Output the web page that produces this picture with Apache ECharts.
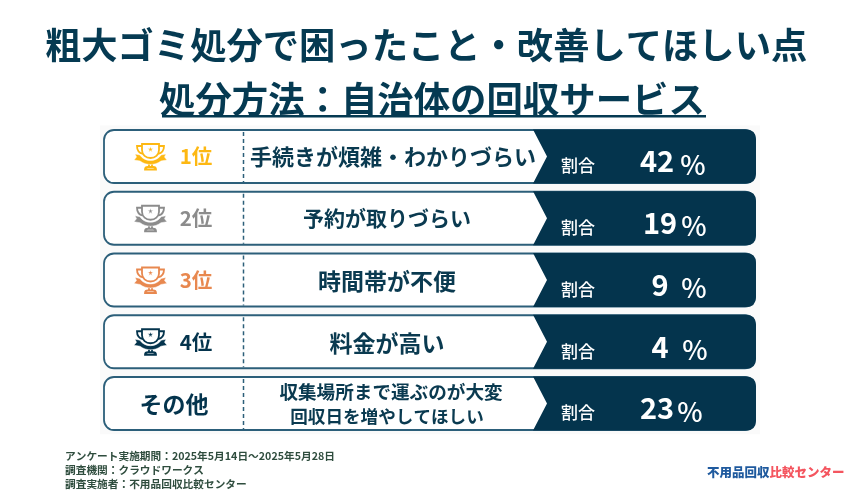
<!DOCTYPE html>
<html>
<head>
<meta charset="utf-8">
<title>粗大ゴミ処分で困ったこと・改善してほしい点</title>
<script src="https://cdn.jsdelivr.net/npm/echarts@6/dist/echarts.min.js"></script>
<style>
  html, body { margin: 0; padding: 0; background: #fff; }
  #chart { width: 850px; height: 500px; }
</style>
</head>
<body>
<div id="chart"></div>
<script>
// データ
const ranks = ['1位', '2位', '3位', '4位', 'その他'];
const reasons = [
  ['手続きが煩雑・わかりづらい'],
  ['予約が取りづらい'],
  ['時間帯が不便'],
  ['料金が高い'],
  ['収集場所まで運ぶのが大変', '回収日を増やしてほしい']
];
const shares = [42, 19, 9, 4, 23];
const shareLabel = '割合';
const notes = [
  'アンケート実施期間：2025年5月14日〜2025年5月28日',
  '調査機関：クラウドワークス',
  '調査実施者：不用品回収比較センター'
];

// 見た目
const FONT = '"Noto Sans CJK JP", "Noto Sans", sans-serif';
const NAVY = '#04344d';
const rankColors = ['#fdb813', '#8c8c8c', '#e8884f', '#04344d', '#04344d'];
const reasonSizes = [22, 21, 23, 23, 18.6];
const reasonCenters = [289, 283, 283, 283, 283];
const reasonDrops = [0, 0, 1, 2, 0];
const numberOffsets = [0, 3, 3, 3, 0];
const percentOffsets = [0, 1, 1, 2, -3];

// 右側の濃い帯（左端が矢印の形に切り欠かれる）
echarts.graphic.registerShape('sharePanel', echarts.graphic.extendShape({
  shape: { x: 0, y: 0, width: 0, height: 0, notch: 14, r: 10 },
  buildPath(ctx, s) {
    const right = s.x + s.width, bottom = s.y + s.height;
    ctx.moveTo(s.x, s.y);
    ctx.lineTo(right - s.r, s.y);
    ctx.quadraticCurveTo(right, s.y, right, s.y + s.r);
    ctx.lineTo(right, bottom - s.r);
    ctx.quadraticCurveTo(right, bottom, right - s.r, bottom);
    ctx.lineTo(s.x, bottom);
    ctx.lineTo(s.x + s.notch, s.y + s.height / 2);
    ctx.closePath();
  }
}));

// トロフィー（線の部分）
echarts.graphic.registerShape('trophyLine', echarts.graphic.extendShape({
  shape: { x: 0, y: 0 },
  buildPath(ctx, s) {
    const x = s.x, y = s.y;
    ctx.moveTo(x + 8, y + 1);
    ctx.lineTo(x + 25, y + 1);
    ctx.lineTo(x + 25, y + 7);
    ctx.bezierCurveTo(x + 25, y + 12, x + 21, y + 15, x + 16.5, y + 15);
    ctx.bezierCurveTo(x + 12, y + 15, x + 8, y + 12, x + 8, y + 7);
    ctx.closePath();
    ctx.moveTo(x + 8, y + 3);
    ctx.lineTo(x + 3, y + 3);
    ctx.bezierCurveTo(x + 3, y + 7, x + 5, y + 10, x + 9, y + 11);
    ctx.moveTo(x + 25, y + 3);
    ctx.lineTo(x + 30, y + 3);
    ctx.bezierCurveTo(x + 30, y + 7, x + 28, y + 10, x + 24, y + 11);
    ctx.moveTo(x + 15, y + 21);
    ctx.lineTo(x + 15, y + 24);
    ctx.moveTo(x + 18, y + 21);
    ctx.lineTo(x + 18, y + 24);
    ctx.moveTo(x + 11, y + 26.5);
    ctx.quadraticCurveTo(x + 11, y + 24, x + 14, y + 24);
    ctx.lineTo(x + 19, y + 24);
    ctx.quadraticCurveTo(x + 22, y + 24, x + 22, y + 26.5);
    ctx.closePath();
  }
}));

// トロフィー（リボンと星）
echarts.graphic.registerShape('trophyFill', echarts.graphic.extendShape({
  shape: { x: 0, y: 0 },
  buildPath(ctx, s) {
    const x = s.x, y = s.y;
    ctx.moveTo(x + 1, y + 11);
    ctx.lineTo(x + 6, y + 12);
    ctx.bezierCurveTo(x + 8, y + 15.5, x + 12, y + 17.5, x + 16.5, y + 17.5);
    ctx.bezierCurveTo(x + 21, y + 17.5, x + 25, y + 15.5, x + 27, y + 12);
    ctx.lineTo(x + 32, y + 11);
    ctx.lineTo(x + 30.5, y + 14);
    ctx.lineTo(x + 33, y + 17);
    ctx.lineTo(x + 27, y + 18);
    ctx.bezierCurveTo(x + 24, y + 20.5, x + 20, y + 21.5, x + 16.5, y + 21.5);
    ctx.bezierCurveTo(x + 13, y + 21.5, x + 9, y + 20.5, x + 6, y + 18);
    ctx.lineTo(x + 0, y + 17);
    ctx.lineTo(x + 2.5, y + 14);
    ctx.closePath();
    // 星
    const cx = x + 16.5, cy = y + 6.5;
    for (let i = 0; i < 10; i++) {
      const r = i % 2 ? 1.2 : 3;
      const a = -Math.PI / 2 + i * Math.PI / 5;
      const px = cx + r * Math.cos(a), py = cy + r * Math.sin(a);
      if (i === 0) ctx.moveTo(px, py); else ctx.lineTo(px, py);
    }
    ctx.closePath();
  }
}));

function label(text, x, y, size, weight, fill, align) {
  return {
    type: 'text',
    style: {
      text, x, y, fill,
      font: weight + ' ' + size + 'px ' + FONT,
      align: align || 'center',
      verticalAlign: 'middle'
    }
  };
}

function renderRow(params, api) {
  const i = api.value(1);
  const sys = params.coordSys;
  const cy = api.coord([0, i])[1];
  const h = 53;
  const top = cy - h / 2;
  const left = sys.x + 4;
  const right = sys.x + 655;
  const color = rankColors[i];
  const kids = [
    {
      type: 'rect',
      shape: { x: left, y: top, width: right - left, height: h, r: 10 },
      style: { fill: '#fff', stroke: '#2c5f7a', lineWidth: 1.8 }
    },
    {
      type: 'line',
      shape: { x1: left + 139.5, y1: top + 2, x2: left + 139.5, y2: top + h - 1 },
      style: { stroke: '#2c5f7a', lineWidth: 1.5, lineDash: [4, 3] }
    },
    {
      type: 'sharePanel',
      shape: { x: left + 429, y: top - 0.5, width: right - left - 428, height: h + 1 },
      style: { fill: NAVY }
    }
  ];

  if (i < 4) {
    const tx = left + 30, ty = cy - 13.5;
    kids.push(
      { type: 'trophyLine', shape: { x: tx, y: ty }, style: { fill: '#fff', stroke: color, lineWidth: 1.8 } },
      { type: 'trophyFill', shape: { x: tx, y: ty }, style: { fill: color, stroke: '#fff', lineWidth: 0.5 } },
      label(ranks[i], left + 92, cy, 20.5, 700, color)
    );
  } else {
    kids.push(label(ranks[i], left + 70, cy + 1, 23, 700, color));
  }

  const lines = reasons[i];
  lines.forEach(function (line, k) {
    const ly = lines.length > 1 ? cy - 12 + k * 25 : cy + reasonDrops[i];
    const cx = lines.length > 1 && k === 0 ? left + 287 : left + reasonCenters[i];
    const size = lines.length > 1 && k === 1 ? 17.6 : reasonSizes[i];
    kids.push(label(line, cx, ly, size, 700, '#0a3a50'));
  });

  kids.push(
    label(shareLabel, left + 474, cy + 9.5, 17, 500, '#fff'),
    label(String(shares[i]), left + 553 + numberOffsets[i], cy + 5, 29, 700, '#fff'),
    label('%', left + 589 + percentOffsets[i], cy + 8, 27, 500, '#fff')
  );

  return { type: 'group', children: kids };
}

const chart = echarts.init(document.getElementById('chart'), null, { renderer: 'canvas' });

chart.setOption({
  animation: false,
  backgroundColor: '#fff',
  title: [
    {
      text: '粗大ゴミ処分で困ったこと・改善してほしい点',
      left: 40, top: 22,
      textStyle: { fontFamily: FONT, fontSize: 36.3, fontWeight: 700, color: '#053a52' }
    },
    {
      text: '処分方法：自治体の回収サービス',
      left: 154, top: 76,
      textStyle: { fontFamily: FONT, fontSize: 36.4, fontWeight: 700, color: '#053a52' }
    },
    {
      text: notes.join('\n'),
      left: 65, top: 449,
      padding: 0,
      textStyle: { fontFamily: FONT, fontSize: 10.7, fontWeight: 700, color: '#2f4d3e', lineHeight: 14 }
    },
    {
      text: '{a|不用品回収}{b|比較センター}',
      left: 707, top: 466,
      padding: 0,
      textStyle: {
        rich: {
          a: { fontFamily: FONT, fontSize: 12.5, fontWeight: 900, color: '#1f5a9e' },
          b: { fontFamily: FONT, fontSize: 12.5, fontWeight: 900, color: '#f4555f' }
        }
      }
    }
  ],
  graphic: [
    {
      type: 'rect',
      shape: { x: 162, y: 115, width: 544, height: 2.5 },
      style: { fill: '#053a52' }
    }
  ],
  grid: {
    left: 100, top: 125.6, width: 660, height: 308.75,
    show: true, backgroundColor: '#fafafa', borderWidth: 0
  },
  xAxis: { type: 'value', min: 0, max: 100, show: false },
  yAxis: { type: 'category', data: ranks, inverse: true, show: false },
  series: [
    {
      type: 'custom',
      renderItem: renderRow,
      encode: { x: 0, y: 1 },
      data: shares.map(function (v, i) { return [v, i]; }),
      clip: false
    }
  ]
});
</script>
</body>
</html>
